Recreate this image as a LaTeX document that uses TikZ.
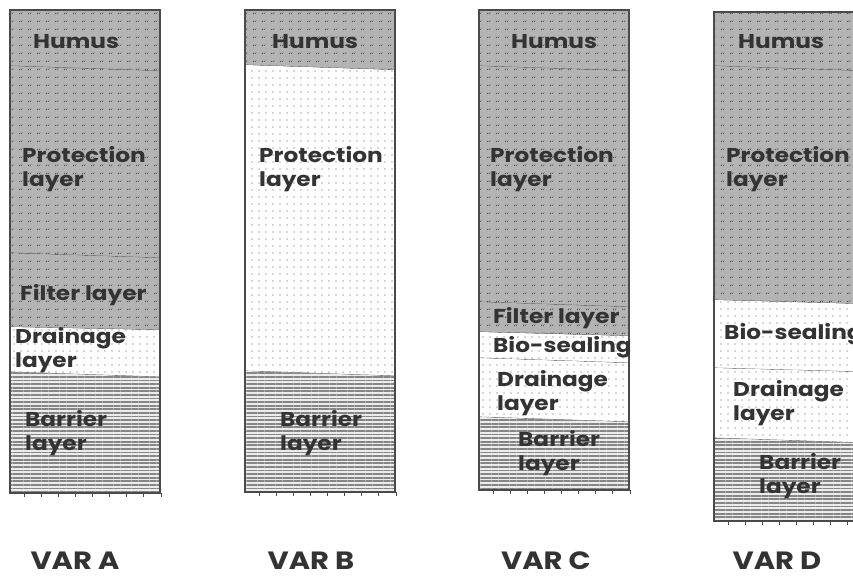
\documentclass[tikz,border=0pt]{standalone}
\usepackage{fontspec}
\setmainfont{Poppins}[FakeStretch=1.16]
\usetikzlibrary{patterns.meta}
\definecolor{soilgray}{HTML}{B4B4B4}
\definecolor{inkgray}{HTML}{333333}
\definecolor{edgegray}{HTML}{4A4A4A}
\tikzdeclarepattern{name=humushatch, type=uncolored,
  bounding box={(0,0) and (9pt,8pt)}, tile size={(9pt,8pt)},
  code={\draw[line width=0.45pt] (1pt,1pt) -- (2.6pt,2.6pt);
        \draw[line width=0.45pt] (3.2pt,1.2pt) -- (4.8pt,2.8pt);}}
\tikzset{
  humus/.style={fill=soilgray, postaction={pattern=humushatch, pattern color=gray!45!black}},
  sand/.style={fill=white, postaction={pattern={Dots[distance=7pt, radius=0.55pt]}, pattern color=gray!70!black}},
  clay/.style={fill=gray!15, postaction={pattern={Lines[angle=0, distance=3.6pt, line width=1.8pt]}, pattern color=gray!95}},
  seam/.style={draw=edgegray, line width=0.7pt},
  frame/.style={draw=edgegray, line width=1.4pt},
  lbl/.style={anchor=base west, align=left, inner sep=0pt, text=inkgray,
    font=\bfseries\fontsize{20}{23.5}\selectfont},
  varlbl/.style={anchor=base, inner sep=0pt, text=inkgray,
    font=\bfseries\fontsize{25}{30}\selectfont},
}
% one layer of a column: x, top left, top right, bottom left, bottom right, style
\newcommand\stratum[6]{%
  \fill[#6] (#1,#2) -- (#1+150,#3) -- (#1+150,#5) -- (#1,#4) -- cycle;
  \draw[seam] (#1,#4) -- (#1+150,#5);}
\newcommand\colticks[2]{%
  \foreach \i in {0,...,8} \draw[edgegray, line width=0.5pt] (#1+14+17.1*\i,#2) -- ++(0,4);}

\begin{document}
\begin{tikzpicture}[x=1pt, y=-1pt]
  \clip (0,0) rectangle (853,575);
  \fill[white] (0,0) rectangle (853,575);

  % VAR A
  \stratum{10}{10}{10}{66}{71}{humus}
  \stratum{10}{66}{71}{253}{258}{humus}
  \stratum{10}{253}{258}{327}{330}{humus}
  \stratum{10}{327}{330}{372}{377}{sand}
  \stratum{10}{372}{377}{493}{493}{clay}
  \draw[frame] (10,10) rectangle (160,493);
  \colticks{10}{493}
  \node[lbl] (humA) at (33,49) {Humus};
  \node[lbl] (proA) at (22,186) {Protection\\layer};
  \node[lbl] (filA) at (20,300) {Filter layer};
  \node[lbl] (draA) at (15,367) {Drainage\\layer};
  \node[lbl] (barA) at (25,450) {Barrier\\layer};

  % VAR B
  \stratum{245}{10}{10}{65}{70}{humus}
  \stratum{245}{65}{70}{371}{376}{sand}
  \stratum{245}{371}{376}{492}{492}{clay}
  \draw[frame] (245,10) rectangle (395,492);
  \colticks{245}{492}
  \node[lbl] (humB) at (272,49) {Humus};
  \node[lbl] (proB) at (259,186) {Protection\\layer};
  \node[lbl] (barB) at (280,450) {Barrier\\layer};

  % VAR C
  \stratum{479}{10}{10}{66}{71}{humus}
  \stratum{479}{66}{71}{302}{307}{humus}
  \stratum{479}{302}{307}{332}{336}{humus}
  \stratum{479}{332}{336}{358}{363}{sand}
  \stratum{479}{358}{363}{417}{422}{sand}
  \stratum{479}{417}{422}{490}{490}{clay}
  \draw[frame] (479,10) rectangle (629,490);
  \colticks{479}{490}
  \node[lbl] (humC) at (511,49) {Humus};
  \node[lbl] (proC) at (490,186) {Protection\\layer};
  \node[lbl] (filC) at (493,323) {Filter layer};
  \node[lbl] (bioC) at (493,352) {Bio-sealing};
  \node[lbl] (draC) at (497,410) {Drainage\\layer};
  \node[lbl] (barC) at (518,470) {Barrier\\layer};

  % VAR D
  \stratum{714}{12}{12}{66}{71}{humus}
  \stratum{714}{66}{71}{300}{304}{humus}
  \stratum{714}{300}{304}{368}{372}{sand}
  \stratum{714}{368}{372}{438}{443}{sand}
  \stratum{714}{438}{443}{521}{521}{clay}
  \draw[frame] (714,12) rectangle (864,521);
  \colticks{714}{521}
  \node[lbl] (humD) at (738,49) {Humus};
  \node[lbl] (proD) at (726,186) {Protection\\layer};
  \node[lbl] (bioD) at (724,339) {Bio-sealing};
  \node[lbl] (draD) at (733,420) {Drainage\\layer};
  \node[lbl] (barD) at (759,493) {Barrier\\layer};

  % captions
  \node[varlbl] (varA) at (75,569) {VAR A};
  \node[varlbl] (varB) at (311,569) {VAR B};
  \node[varlbl] (varC) at (546,569) {VAR C};
  \node[varlbl] (varD) at (777,569) {VAR D};
\end{tikzpicture}
\end{document}
